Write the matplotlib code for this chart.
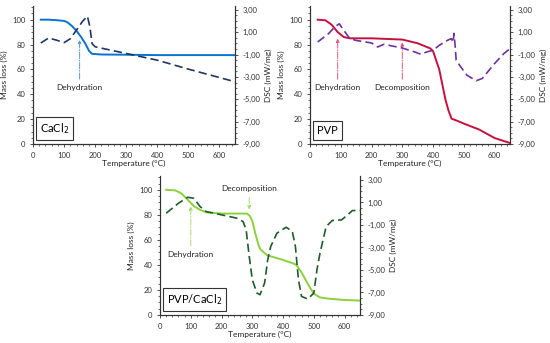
import numpy as np
import matplotlib
matplotlib.use('Agg')
import matplotlib.pyplot as plt
from matplotlib.ticker import MultipleLocator, FixedLocator, FuncFormatter

plt.rcParams['font.family'] = ['Lato', 'DejaVu Sans']
plt.rcParams['font.size'] = 6

# CaCl2
cacl2_tga_t = [25, 50, 80, 100, 110, 125, 140, 155, 170, 180, 190, 220, 300, 400, 500, 650]
cacl2_tga_m = [100, 100, 99.5, 99, 98, 95, 91, 86, 80, 75, 72.5, 72, 71.8, 71.5, 71.5, 71.5]
cacl2_dsc_t = [25, 50, 75, 100, 120, 140, 160, 175, 183, 190, 200, 300, 400, 500, 650]
cacl2_dsc_v = [0.04, 0.48, 0.3, 0.07, 0.42, 1.2, 2.0, 2.44, 1.5, -0.02, -0.3, -0.9, -1.5, -2.3, -3.43]

# PVP
pvp_tga_t = [25, 50, 70, 90, 110, 130, 200, 300, 350, 390, 400, 420, 440, 450, 460, 480, 500, 550, 600, 650]
pvp_tga_m = [100, 99.5, 96, 90, 86, 85, 85, 84, 81, 77, 74.7, 60, 36, 27, 20.4, 18.5, 16.4, 11.6, 4.8, 0.8]
pvp_dsc_t = [25, 60, 80, 95, 110, 130, 150, 200, 220, 240, 300, 340, 360, 380, 400, 420, 450, 460, 465, 468,
             472, 475, 490, 510, 540, 560, 600, 630, 650]
pvp_dsc_v = [0.13, 0.87, 1.46, 1.76, 1.16, 0.42, 0.27, 0.04, -0.32, -0.08, -0.41, -0.76, -0.97, -0.76, -0.61,
             -0.17, 0.33, 0.42, 0.1, 0.9, -0.32, -1.5, -2.1, -2.84, -3.34, -3.13, -1.8, -0.91, -0.47]

# PVP/CaCl2
mix_tga_t = [20, 50, 70, 90, 110, 130, 150, 200, 283, 292, 300, 310, 320, 326, 348, 400, 440, 446, 460,
             480, 500, 520, 550, 600, 650]
mix_tga_m = [100, 99.5, 97, 92, 87, 84, 82, 81, 81, 79, 75, 65, 56, 52.5, 47.7, 44, 40.5, 39, 34,
             25, 17, 14, 13, 12, 11.5]
mix_dsc_t = [20, 60, 90, 110, 130, 150, 200, 250, 270, 280, 290, 300, 315, 325, 340, 350, 360, 380, 410,
             430, 440, 450, 460, 480, 500, 510, 520, 540, 560, 590, 610, 625, 650]
mix_dsc_v = [0.04, 0.93, 1.46, 1.37, 0.64, 0.19, -0.1, -0.4, -0.7, -1.43, -3.8, -5.87, -7.05, -7.2, -6.16,
             -4.1, -2.9, -1.73, -1.2, -1.58, -2.9, -5.87, -7.35, -7.58, -7.05, -5.0, -3.5, -1.14, -0.6,
             -0.55, -0.1, 0.28, 0.28]

dsc_ticks = [3, 1, -1, -3, -5, -7, -9]

W, H = 550, 343
fig = plt.figure(figsize=(W / 100, H / 100), dpi=100)


def panel(px_left, px_top, px_right, px_bottom, tga_t, tga_m, dsc_t, dsc_v, tga_col, dsc_col, label):
    ax = fig.add_axes([px_left / W, 1 - px_bottom / H, (px_right - px_left) / W, (px_bottom - px_top) / H])
    ax2 = ax.twinx()
    ax.plot(tga_t, tga_m, color=tga_col, lw=1.4, zorder=3)
    ax2.plot(dsc_t, dsc_v, color=dsc_col, lw=1.2, ls=(0, (5, 2.5)))
    ax.set_xlim(0, 650)
    ax.set_ylim(0, 111)
    ax2.set_ylim(-9, 3.35)
    ax.xaxis.set_major_locator(MultipleLocator(100))
    ax.xaxis.set_minor_locator(MultipleLocator(20))
    ax.yaxis.set_major_locator(MultipleLocator(20))
    ax.yaxis.set_minor_locator(MultipleLocator(5))
    ax2.yaxis.set_major_locator(FixedLocator(dsc_ticks))
    ax2.yaxis.set_minor_locator(FixedLocator(np.arange(-9, 3.01, 0.5)))
    ax2.yaxis.set_major_formatter(FuncFormatter(lambda v, p: ('%.2f' % v).replace('.', ',')))
    for a in (ax, ax2):
        a.spines['top'].set_visible(False)
        for s in a.spines.values():
            s.set_linewidth(0.8)
            s.set_color('#333333')
        a.tick_params(which='major', length=2.5, width=0.6, colors='#333333', labelsize=5.5, pad=3)
        a.tick_params(which='minor', length=1.5, width=0.5, colors='#333333')
    ax.set_xlabel('Temperature (°C)', fontsize=6, labelpad=1, color='#222222')
    ax.set_ylabel('Mass loss (%)', fontsize=6, labelpad=3, color='#222222')
    ax2.set_ylabel('DSC (mW/mg)', fontsize=6, labelpad=3, color='#222222')
    ax.text(0.035, 0.06, label, transform=ax.transAxes, fontsize=8, ha='left', va='bottom', zorder=5,
            bbox=dict(boxstyle='square,pad=0.35', fc='white', ec='#333333', lw=0.8))
    return ax, ax2


def note(ax, text, x, y_text, y_tip, col, up=True):
    ax.annotate('', xy=(x, y_tip), xytext=(x, y_text),
                arrowprops=dict(arrowstyle='-|>', color=col, lw=0.7, ls='-.', mutation_scale=5))
    ax.text(x, y_text - 2 if up else y_text + 2, text, ha='center', va='top' if up else 'bottom',
            fontsize=6, color='#222222')


ax, ax2 = panel(33, 6, 235, 144, cacl2_tga_t, cacl2_tga_m, cacl2_dsc_t, cacl2_dsc_v,
                '#0a72d1', '#1f3664', 'CaCl$_2$')
note(ax, 'Dehydration', 150, 50, 86, '#5b9bd5')

ax, ax2 = panel(310, 6, 510, 144, pvp_tga_t, pvp_tga_m, pvp_dsc_t, pvp_dsc_v,
                '#c8103e', '#7030a0', 'PVP')
note(ax, 'Dehydration', 90, 50, 87, '#e8537a')
note(ax, 'Decomposition', 300, 50, 84, '#e8537a')

ax, ax2 = panel(160, 176, 360, 315, mix_tga_t, mix_tga_m, mix_dsc_t, mix_dsc_v,
                '#8cd13c', '#1e5c2e', 'PVP/CaCl$_2$')
note(ax, 'Dehydration', 100, 53, 89, '#a9d86e')
note(ax, 'Decomposition', 290, 96, 82, '#a9d86e', up=False)

fig.savefig('out.png', dpi=100)
